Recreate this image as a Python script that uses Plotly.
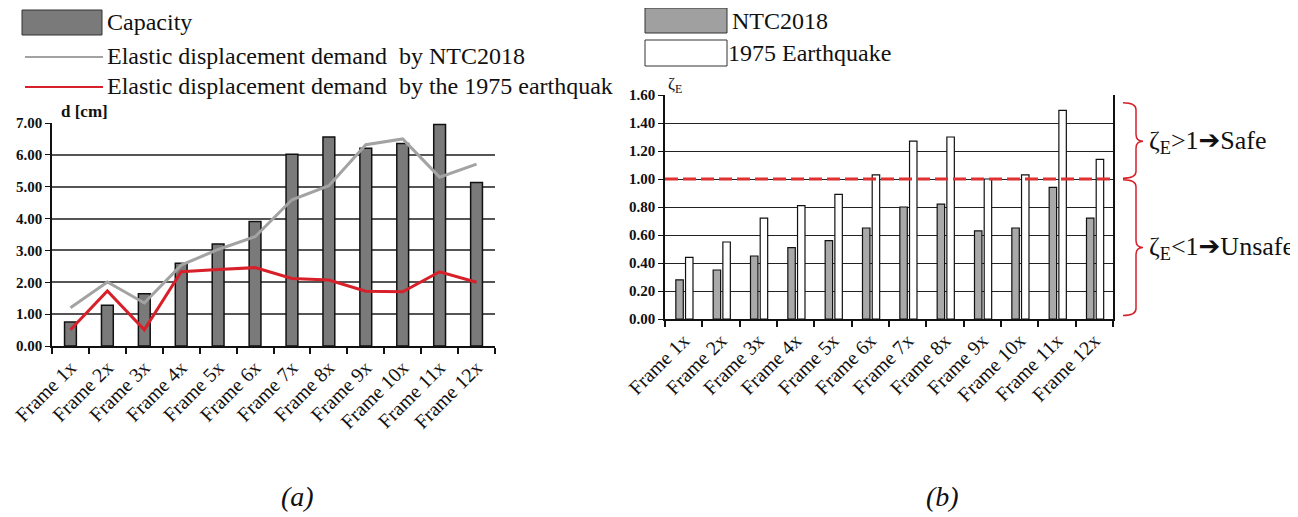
import plotly.graph_objects as go

frames = ["Frame 1x", "Frame 2x", "Frame 3x", "Frame 4x", "Frame 5x", "Frame 6x",
          "Frame 7x", "Frame 8x", "Frame 9x", "Frame 10x", "Frame 11x", "Frame 12x"]

# (a) displacement capacity and demands [cm]
capacity = [0.75, 1.28, 1.64, 2.60, 3.20, 3.91, 6.02, 6.56, 6.21, 6.36, 6.95, 5.13]
demand_ntc = [1.20, 2.01, 1.35, 2.54, 3.03, 3.43, 4.59, 5.03, 6.32, 6.50, 5.30, 5.71]
demand_1975 = [0.51, 1.73, 0.51, 2.33, 2.40, 2.46, 2.12, 2.07, 1.72, 1.70, 2.33, 2.00]

# (b) zeta_E ratios
zeta_ntc = [0.28, 0.35, 0.45, 0.51, 0.56, 0.65, 0.80, 0.82, 0.63, 0.65, 0.94, 0.72]
zeta_1975 = [0.44, 0.55, 0.72, 0.81, 0.89, 1.03, 1.27, 1.30, 1.00, 1.03, 1.49, 1.14]
zeta_limit = 1.0

OFF = 8  # default page body margin
W, H = 1298 - OFF, 517 - OFF
SERIF = "Liberation Serif, Times New Roman, serif"

fig = go.Figure()

fig.add_trace(go.Bar(x=frames, y=capacity, xaxis="x", yaxis="y", width=0.32,
                     marker=dict(color="#7a7a7a", line=dict(color="#111111", width=1.5)),
                     showlegend=False))
fig.add_trace(go.Scatter(x=frames, y=demand_ntc, xaxis="x", yaxis="y", mode="lines",
                         line=dict(color="#a3a3a3", width=3), showlegend=False))
fig.add_trace(go.Scatter(x=frames, y=demand_1975, xaxis="x", yaxis="y", mode="lines",
                         line=dict(color="#d7202a", width=3), showlegend=False))

fig.add_trace(go.Bar(x=frames, y=zeta_ntc, xaxis="x2", yaxis="y2", width=0.2, offset=-0.21,
                     marker=dict(color="#a9a9a9", line=dict(color="#111111", width=1.2)),
                     showlegend=False))
fig.add_trace(go.Bar(x=frames, y=zeta_1975, xaxis="x2", yaxis="y2", width=0.2, offset=0.05,
                     marker=dict(color="#ffffff", line=dict(color="#111111", width=1.2)),
                     showlegend=False))


def px_x(p):
    return (p - OFF) / W


def px_y(p):
    return 1 - (p - OFF) / H


tickfont = dict(family=SERIF, size=15, color="#111111", weight="bold")
catfont = dict(family=SERIF, size=20, color="#111111")

fig.update_layout(
    width=W, height=H, margin=dict(l=0, r=0, t=0, b=0, autoexpand=False),
    paper_bgcolor="white", plot_bgcolor="white", barmode="overlay",
    xaxis=dict(domain=[px_x(52), px_x(495)], anchor="y", type="category", automargin=False,
               tickson="boundaries", ticks="outside", ticklen=6, tickwidth=1.5, tickcolor="#111",
               showline=True, linecolor="#111", linewidth=2, showgrid=False,
               tickangle=-45, tickfont=catfont, range=[-0.5, 11.5]),
    yaxis=dict(domain=[px_y(346), px_y(123)], anchor="x", range=[0, 7], dtick=1,
               automargin=False,
               tickformat=".2f", ticks="outside", ticklen=5, tickcolor="#111",
               showline=True, linecolor="#111", linewidth=1.5,
               showgrid=True, gridcolor="#555555", gridwidth=1.5, tickfont=tickfont,
               zeroline=False),
    xaxis2=dict(domain=[px_x(665), px_x(1113)], anchor="y2", type="category", automargin=False,
                tickson="boundaries", ticks="outside", ticklen=6, tickwidth=1.5, tickcolor="#111",
                showline=True, linecolor="#111", linewidth=2, showgrid=False,
                tickangle=-45, tickfont=catfont, range=[-0.5, 11.5]),
    yaxis2=dict(domain=[px_y(319), px_y(95)], anchor="x2", range=[0, 1.6], dtick=0.2,
                automargin=False,
                tickformat=".2f", ticks="outside", ticklen=5, tickcolor="#111",
                showline=True, mirror=True, linecolor="#111", linewidth=1.5,
                showgrid=True, gridcolor="#222222", gridwidth=1, tickfont=tickfont,
                zeroline=False),
)

shapes = []
annotations = []

# limit line zeta_E = 1
shapes.append(dict(type="line", xref="x2 domain", yref="y2", x0=0, x1=1,
                   y0=zeta_limit, y1=zeta_limit,
                   line=dict(color="#e03030", width=3, dash="13px,5px")))

# legend (a)
shapes.append(dict(type="rect", xref="paper", yref="paper",
                   x0=px_x(22), x1=px_x(102), y0=px_y(35), y1=px_y(10),
                   fillcolor="#7a7a7a", line=dict(color="#333", width=1)))
shapes.append(dict(type="line", xref="paper", yref="paper",
                   x0=px_x(25), x1=px_x(103), y0=px_y(57), y1=px_y(57),
                   line=dict(color="#a3a3a3", width=2)))
shapes.append(dict(type="line", xref="paper", yref="paper",
                   x0=px_x(25), x1=px_x(103), y0=px_y(87), y1=px_y(87),
                   line=dict(color="#d7202a", width=2)))
leg_font = dict(family=SERIF, size=24, color="#111111")
for txt, yy in [("Capacity", 22),
                ("Elastic displacement demand\u00a0\u00a0by NTC2018", 56),
                ("Elastic displacement demand\u00a0\u00a0by the 1975 earthquak", 86)]:
    annotations.append(dict(xref="paper", yref="paper", x=px_x(105), y=px_y(yy),
                            text=txt, showarrow=False, xanchor="left", yanchor="middle",
                            font=leg_font))

# legend (b)
shapes.append(dict(type="rect", xref="paper", yref="paper",
                   x0=px_x(645), x1=px_x(727), y0=px_y(33), y1=px_y(8),
                   fillcolor="#a0a0a0", line=dict(color="#333", width=1)))
shapes.append(dict(type="rect", xref="paper", yref="paper",
                   x0=px_x(645), x1=px_x(727), y0=px_y(66), y1=px_y(40),
                   fillcolor="#ffffff", line=dict(color="#333", width=1)))
annotations.append(dict(xref="paper", yref="paper", x=px_x(730), y=px_y(21),
                        text="NTC2018", showarrow=False, xanchor="left", yanchor="middle",
                        font=leg_font))
annotations.append(dict(xref="paper", yref="paper", x=px_x(726), y=px_y(53),
                        text="1975 Earthquake", showarrow=False, xanchor="left",
                        yanchor="middle", font=leg_font))

# axis titles
annotations.append(dict(xref="paper", yref="paper", x=px_x(59), y=px_y(112),
                        text="<b>d [cm]</b>", showarrow=False, xanchor="left",
                        yanchor="middle", font=dict(family=SERIF, size=17, color="#111")))
annotations.append(dict(xref="paper", yref="paper", x=px_x(666), y=px_y(85),
                        text="ζ<sub>E</sub>", showarrow=False, xanchor="left",
                        yanchor="middle", font=dict(family=SERIF, size=17, color="#111")))

# brackets
bx0, bx1, bx2 = px_x(1123), px_x(1136), px_x(1143)


def brace(ytop, ymid, ybot, d):
    return (f"M {bx0},{ytop} Q {bx1},{ytop} {bx1},{ytop - d} "
            f"L {bx1},{ymid + d} Q {bx1},{ymid} {bx2},{ymid} "
            f"Q {bx1},{ymid} {bx1},{ymid - d} "
            f"L {bx1},{ybot + d} Q {bx1},{ybot} {bx0},{ybot}")


shapes.append(dict(type="path", xref="paper", yref="y2",
                   path=brace(1.545, 1.27, 1.005, 0.05),
                   line=dict(color="#d7202a", width=1.5)))
shapes.append(dict(type="path", xref="paper", yref="y2",
                   path=brace(0.995, 0.51, 0.025, 0.05),
                   line=dict(color="#d7202a", width=1.5)))

ann_font = dict(family=SERIF, size=26, color="#111111")
arrow = "<span style='font-family:DejaVu Sans;font-weight:bold'>\u2794</span>"
annotations.append(dict(xref="paper", yref="y2", x=px_x(1147), y=1.27,
                        text="ζ<sub>E</sub>>1" + arrow + "Safe", showarrow=False,
                        xanchor="left", yanchor="middle", font=ann_font))
annotations.append(dict(xref="paper", yref="y2", x=px_x(1147), y=0.51,
                        text="ζ<sub>E</sub><1" + arrow + "Unsafe", showarrow=False,
                        xanchor="left", yanchor="middle", font=ann_font))

# captions
cap_font = dict(family=SERIF, size=28, color="#111111", style="italic")
annotations.append(dict(xref="paper", yref="paper", x=px_x(297), y=px_y(496),
                        text="(a)", showarrow=False, xanchor="center", yanchor="middle",
                        font=cap_font))
annotations.append(dict(xref="paper", yref="paper", x=px_x(943), y=px_y(496),
                        text="(b)", showarrow=False, xanchor="center", yanchor="middle",
                        font=cap_font))

fig.update_layout(shapes=shapes, annotations=annotations)

fig.write_html("out.html")
